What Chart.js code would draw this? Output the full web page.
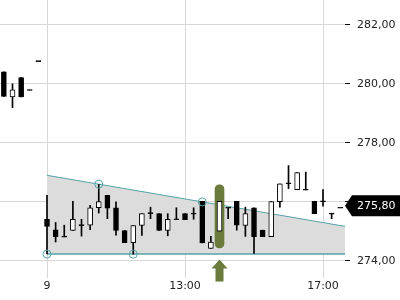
<!DOCTYPE html>
<html>
<head>
<meta charset="utf-8">
<script src="https://cdn.jsdelivr.net/npm/chart.js@4.4.1/dist/chart.umd.min.js"></script>
<style>
  html, body { margin: 0; padding: 0; background: #fff; }
  #wrap { width: 400px; height: 300px; }
</style>
</head>
<body>
<div id="wrap"><canvas id="chart"></canvas></div>
<script>
// candle index: 0 = 9:00, one candle every 15 minutes (negatives = previous day)
const candleIdx = [-5, -4, -3, -2, -1, 0, 1, 2, 3, 4, 5, 6, 7, 8, 9, 10, 11, 12, 13, 14, 15, 16, 17, 18, 19, 20, 21, 22, 23, 24, 25, 26, 27, 28, 29, 30, 31, 32, 33, 34];
const opens  = [280.41, 279.56, 280.21, 279.79, 280.77, 275.41, 275.05, 274.82, 275.03, 275.21, 275.21, 275.80, 276.22, 275.80, 275.03, 274.62, 275.20, 275.62, 275.60, 275.03, 275.41, 275.60, 275.60, 276.02, 274.42, 275.01, 275.80, 276.02, 275.20, 275.80, 275.04, 274.82, 276.01, 276.63, 276.41, 276.41, 276.02, 276.02, 275.60, 275.80];
const highs  = [280.41, 280.00, 280.21, 279.79, 280.77, 276.22, 275.30, 275.21, 276.02, 275.41, 275.88, 276.59, 276.22, 276.00, 275.03, 275.20, 275.60, 275.82, 275.60, 275.60, 275.80, 275.60, 275.80, 276.02, 274.83, 276.02, 275.80, 276.02, 275.82, 275.80, 275.04, 276.01, 276.61, 277.23, 276.99, 277.01, 276.02, 276.42, 275.60, 275.80];
const lows   = [279.57, 279.19, 279.56, 279.79, 280.77, 274.24, 274.64, 274.82, 275.03, 274.84, 275.06, 275.62, 275.43, 274.87, 274.62, 274.23, 274.86, 275.43, 275.03, 274.85, 275.41, 275.40, 275.41, 274.61, 274.42, 275.01, 275.43, 275.04, 274.83, 274.25, 274.82, 274.82, 275.82, 276.45, 276.41, 276.41, 275.60, 275.85, 275.43, 275.80];
const closes = [279.57, 279.80, 279.56, 279.79, 280.77, 275.17, 274.82, 274.82, 275.41, 275.21, 275.80, 276.01, 275.79, 275.03, 274.62, 275.20, 275.60, 275.62, 275.03, 275.41, 275.41, 275.40, 275.60, 274.61, 274.64, 276.02, 275.80, 275.21, 275.60, 274.82, 274.82, 276.01, 276.61, 276.63, 276.99, 276.41, 275.60, 276.02, 275.60, 275.80];

// triangle drawn on the chart
const trendX     = [0, 34.55];
const upperTrend = [276.90, 275.17];
const lowerTrend = [274.23, 274.23];
const touchX     = [0, 6, 10, 18];
const touchY     = [274.23, 276.60, 274.23, 276.00];

// highlighted candle + arrow
const markIdx   = 20;
const markRange = [274.44, 276.58];
const arrowTip  = 274.05;

const xTickPos    = [0, 16, 32];
const xTickLabels = ['9', '13:00', '17:00'];
const priceTicks  = [274, 276, 278, 280, 282];
const lastPrice   = closes[closes.length - 1];

const fmt = v => v.toFixed(2).replace('.', ',');
const font = { family: 'DejaVu Sans', size: 11 };
const teal = '#57a3a8';
const olive = '#6b7b3c';

const wicks = candleIdx.map((x, i) => ({ x: x, y: [lows[i], highs[i]] }));
const bodies = candleIdx.map((x, i) => {
  let lo = Math.min(opens[i], closes[i]), hi = Math.max(opens[i], closes[i]);
  if (hi - lo < 0.03) { lo = closes[i] - 0.017; hi = closes[i] + 0.017; }
  return { x: x, y: [lo, hi] };
});
const bodyFill = candleIdx.map((x, i) =>
  (closes[i] > opens[i] + 0.03) ? '#ffffff' : '#000000');

const priceTag = {
  id: 'priceTag',
  afterDraw(chart) {
    const ctx = chart.ctx;
    const xs = chart.scales.x, ys = chart.scales.y;
    // arrow under the highlighted candle
    const ax = xs.getPixelForValue(markIdx);
    const ay = ys.getPixelForValue(arrowTip);
    ctx.save();
    ctx.fillStyle = olive;
    ctx.beginPath();
    ctx.moveTo(ax, ay);
    ctx.lineTo(ax + 8, ay + 9);
    ctx.lineTo(ax + 4, ay + 9);
    ctx.lineTo(ax + 4, ay + 22);
    ctx.lineTo(ax - 4, ay + 22);
    ctx.lineTo(ax - 4, ay + 9);
    ctx.lineTo(ax - 8, ay + 9);
    ctx.closePath();
    ctx.fill();

    // last price box
    const x = chart.chartArea.right;
    const y = ys.getPixelForValue(lastPrice) - 2;
    ctx.fillStyle = '#000';
    ctx.beginPath();
    ctx.moveTo(x, y);
    ctx.lineTo(x + 7, y - 10.5);
    ctx.lineTo(chart.width, y - 10.5);
    ctx.lineTo(chart.width, y + 10.5);
    ctx.lineTo(x + 7, y + 10.5);
    ctx.closePath();
    ctx.fill();
    ctx.fillStyle = '#fff';
    ctx.font = '11px "DejaVu Sans"';
    ctx.textBaseline = 'middle';
    ctx.fillText(fmt(lastPrice), x + 12, y + 0.5);
    ctx.restore();
  }
};

new Chart(document.getElementById('chart'), {
  type: 'bar',
  data: {
    datasets: [
      {
        type: 'line', data: trendX.map((x, i) => ({ x: x, y: upperTrend[i] })),
        borderColor: teal, borderWidth: 1, pointRadius: 0,
        fill: '+1', backgroundColor: '#dcdcdc', order: 10
      },
      {
        type: 'line', data: trendX.map((x, i) => ({ x: x, y: lowerTrend[i] })),
        borderColor: teal, borderWidth: 1.5, pointRadius: 0, fill: false, order: 9
      },
      {
        type: 'line', data: touchX.map((x, i) => ({ x: x, y: touchY[i] })),
        showLine: false, pointRadius: 4, pointBorderWidth: 1,
        pointBorderColor: teal, pointBackgroundColor: 'rgba(0,0,0,0)', order: 0
      },
      {
        data: [{ x: markIdx, y: markRange }], grouped: false,
        barThickness: 9, borderRadius: 5, borderSkipped: false,
        backgroundColor: olive, order: 5
      },
      {
        data: wicks, grouped: false, barThickness: 1,
        backgroundColor: '#000', borderWidth: 0, order: 2
      },
      {
        data: bodies, grouped: false, barThickness: 5,
        backgroundColor: bodyFill, borderColor: '#000', borderWidth: 1,
        borderSkipped: false, order: 1
      }
    ]
  },
  options: {
    responsive: true,
    maintainAspectRatio: false,
    animation: false,
    layout: { padding: 0, autoPadding: false },
    plugins: { legend: { display: false }, tooltip: { enabled: false } },
    scales: {
      x: {
        type: 'linear', min: -5.45, max: 34.55, offset: false,
        afterBuildTicks: s => { s.ticks = xTickPos.map(v => ({ value: v })); },
        afterFit: s => { s.height = 22; s.paddingLeft = 0; s.paddingRight = 0; },
        ticks: {
          callback: (v, i) => xTickLabels[i], font: font, color: '#222',
          padding: 2, maxRotation: 0, autoSkip: false
        },
        grid: { color: '#d8d8d8', drawTicks: false, offset: false },
        border: { display: false }
      },
      y: {
        position: 'right', min: 273.42, max: 282.84,
        afterBuildTicks: s => { s.ticks = priceTicks.map(v => ({ value: v })); },
        afterFit: s => { s.width = 55; s.paddingTop = 0; s.paddingBottom = 0; },
        ticks: { callback: v => fmt(v), font: font, color: '#222', padding: 7 },
        grid: { color: '#d8d8d8', tickColor: '#000', tickLength: 5 },
        border: { display: false }
      }
    }
  },
  plugins: [priceTag]
});
</script>
</body>
</html>
